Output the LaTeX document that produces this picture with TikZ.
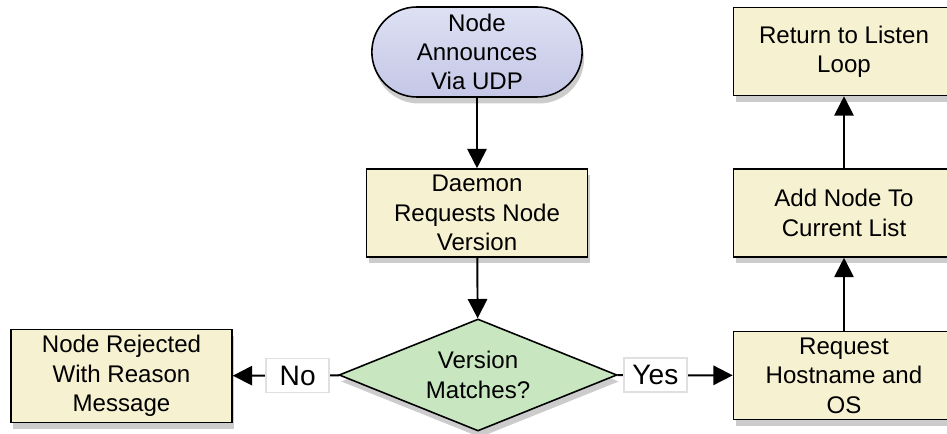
\documentclass[tikz,border=0pt]{standalone}
\usepackage{fontspec}
\setmainfont{Liberation Sans}
\usepackage{tikz}
\usetikzlibrary{shapes,shadows,arrows.meta}
\usepackage{xcolor}
\definecolor{boxyellow}{RGB}{246,241,208}
\definecolor{pilltop}{RGB}{222,224,243}
\definecolor{pillbottom}{RGB}{196,199,230}
\definecolor{decgreen}{RGB}{200,231,192}

\begin{document}
\begin{tikzpicture}
            \tikzstyle{shadowed} = [drop shadow={shadow xshift=0.04cm, shadow yshift=-0.13cm, opacity=0.4}]
            \tikzstyle{box} = [rectangle, draw=black, line width=0.9pt, fill=boxyellow, minimum width=4.42cm, minimum height=1.76cm, align=center, font=\fontsize{13.7}{16.7}\selectfont, shadowed]
            \tikzstyle{startstop} = [rounded rectangle, draw=black, line width=0.9pt, top color=pilltop, bottom color=pillbottom, minimum width=4.44cm, minimum height=1.8cm, align=center, font=\fontsize{13.7}{16.7}\selectfont, shadowed]
            \tikzstyle{decision} = [diamond, aspect=2.5, draw=black, line width=0.9pt, fill=decgreen, inner sep=0pt, minimum width=5.56cm, minimum height=2.24cm, align=center, font=\fontsize{13.7}{16.7}\selectfont, shadowed]
            \tikzstyle{transition} = [-{Triangle[length=11pt, width=11pt]}, line width=1.1pt, draw=black]
            \tikzstyle{answer} = [rectangle, fill=white, draw=black!12, minimum width=1.26cm, minimum height=0.68cm, inner sep=2pt, font=\fontsize{16}{19}\selectfont]

            \useasboundingbox (0, 0) rectangle (18.94, 8.66);
            \clip (0, 0) rectangle (18.94, 8.66);

            \node[startstop] (announce) at (9.54, 7.62) {Node\\Announces\\Via UDP};
            \node[box] (daemon) at (9.54, 4.4) {Daemon\\Requests Node\\Version};
            \node[decision] (match) at (9.56, 1.16) {Version\\Matches?};
            \node[box] (rejected) at (2.43, 1.14) {Node Rejected\\With Reason\\Message};
            \node[box] (request) at (16.88, 1.15) {Request\\Hostname and\\OS};
            \node[box] (addnode) at (16.88, 4.4) {Add Node To\\Current List};
            \node[box] (listen) at (16.88, 7.63) {Return to Listen\\Loop};

            \draw[transition] (announce) -- (daemon);
            \draw[transition] (daemon) -- (match);
            \draw[transition] (match) -- node[answer, pos=0.39] {No} (rejected);
            \draw[transition] (match) -- node[answer, pos=0.33] {Yes} (request);
            \draw[transition] (request) -- (addnode);
            \draw[transition] (addnode) -- (listen);
        \end{tikzpicture}
\end{document}
